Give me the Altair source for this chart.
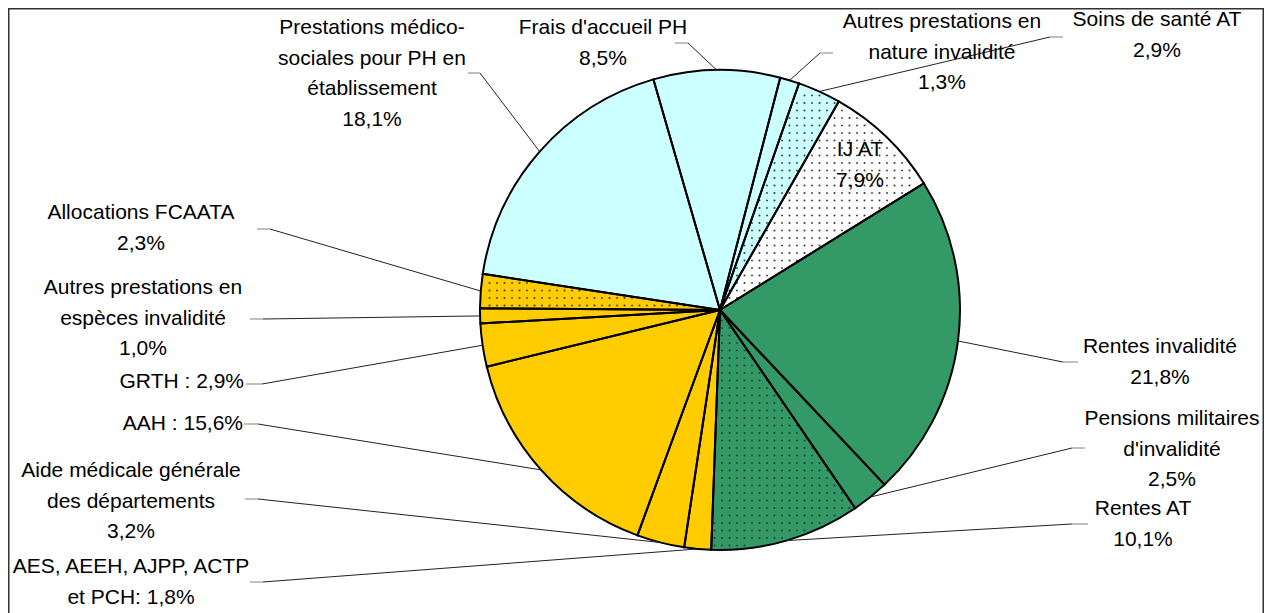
import math
import altair as alt
import pandas as pd

# ---------------- data ----------------
names = [
    "Frais d'accueil PH",
    "Autres prestations en nature invalidité",
    "Soins de santé AT",
    "IJ AT",
    "Rentes invalidité",
    "Pensions militaires d'invalidité",
    "Rentes AT",
    "AES, AEEH, AJPP, ACTP et PCH",
    "Aide médicale générale des départements",
    "AAH",
    "GRTH",
    "Autres prestations en espèces invalidité",
    "Allocations FCAATA",
    "Prestations médico-sociales pour PH en établissement",
]
shares = [8.5, 1.3, 2.9, 7.9, 21.8, 2.5, 10.1, 1.8, 3.2, 15.6, 2.9, 1.0, 2.3, 18.1]
label_lines = [
    ["Frais d'accueil PH", "8,5%"],
    ["Autres prestations en", "nature invalidité", "1,3%"],
    ["Soins de santé AT", "2,9%"],
    ["IJ AT", "7,9%"],
    ["Rentes invalidité", "21,8%"],
    ["Pensions militaires", "d'invalidité", "2,5%"],
    ["Rentes AT", "10,1%"],
    ["AES, AEEH, AJPP, ACTP", "et PCH: 1,8%"],
    ["Aide médicale générale", "des départements", "3,2%"],
    ["AAH : 15,6%"],
    ["GRTH : 2,9%"],
    ["Autres prestations en", "espèces invalidité", "1,0%"],
    ["Allocations FCAATA", "2,3%"],
    ["Prestations médico-", "sociales pour PH en", "établissement", "18,1%"],
]

# ---------------- styles / layout ----------------
colors = ["#CCFFFF", "#CCFFFF", "#CCFFFF", "#FFFFFF", "#339966", "#339966", "#339966",
          "#FFCC00", "#FFCC00", "#FFCC00", "#FFCC00", "#FFCC00", "#FFCC00", "#CCFFFF"]
dotted = [False, False, True, True, False, False, True,
          False, False, False, False, False, True, False]

W, H = 1256, 605          # drawing area (page x 8..1264, y 8..613)
CX, CY, R = 720, 310, 240  # pie centre / radius in page coordinates
START = -16.1              # angle (deg, clockwise from 12 o'clock) of the first slice
FONT = "Liberation Sans"
FS = 21
LH = 30.5

# label anchor (x centre, first line y, align) and leader elbow/end, page coordinates
label_pos = [
    (603, 28, "center"),
    (942, 22, "center"),
    (1157, 20, "center"),
    (860, 150, "center"),
    (1160, 347, "center"),
    (1172, 419, "center"),
    (1143, 509, "center"),
    (131, 567, "center"),
    (131, 471, "center"),
    (243, 424, "right"),
    (244, 382, "right"),
    (143, 288, "center"),
    (141, 213, "center"),
    (372, 28, "center"),
]
leaders = {
    0: ((688, 43), (675, 43)),
    1: ((820, 53), (833, 53)),
    2: ((1050, 37), (1063, 37)),
    4: ((1063, 362), (1078, 362)),
    5: ((1072, 448), (1085, 448)),
    6: ((1072, 524), (1088, 524)),
    7: ((263, 582), (250, 582)),
    8: ((258, 499), (245, 499)),
    9: ((258, 424), (244, 424)),
    10: ((262, 384), (246, 384)),
    11: ((263, 319), (250, 319)),
    12: ((270, 229), (257, 229)),
    13: ((480, 73), (468, 73)),
}

total = sum(shares)
cum = []
c = 0.0
for v in shares:
    cum.append(c)
    c += v

slices = pd.DataFrame({"idx": list(range(len(names))), "name": names, "share": shares})

# leader lines: start on the pie edge at the middle of each slice
lead_rows = []
for i, ((ex, ey), (hx, hy)) in leaders.items():
    mid = math.radians(START + (cum[i] + shares[i] / 2) / total * 360)
    x0 = CX + R * math.sin(mid)
    y0 = CY - R * math.cos(mid)
    lead_rows.append({"x0": x0, "y0": y0, "x1": ex, "y1": ey, "x2": hx, "y2": hy})
leads = pd.DataFrame(lead_rows)

text_rows = []
for i, lines in enumerate(label_lines):
    lx, ly, al = label_pos[i]
    for k, t in enumerate(lines):
        text_rows.append({"x": lx, "y": ly + k * LH, "t": t, "align": al})
texts = pd.DataFrame(text_rows)

xs = alt.Scale(domain=[8, 8 + W], nice=False, zero=False)
ys = alt.Scale(domain=[8, 8 + H], nice=False, zero=False, reverse=True)

s0 = math.radians(START) + 2 * math.pi
theta_enc = alt.Theta("share:Q", stack=True, scale=alt.Scale(range=[s0, s0 + 2 * math.pi]))

base_arc = alt.Chart(slices)
fill_layer = base_arc.mark_arc(outerRadius=R, strokeWidth=0).encode(
    theta=theta_enc,
    order=alt.Order("idx:Q"),
    color=alt.Color("name:N", scale=alt.Scale(domain=names, range=colors), legend=None),
    x=alt.value(CX - 8),
    y=alt.value(CY - 8),
)
outline_layer = base_arc.mark_arc(outerRadius=R, fillOpacity=0, stroke="#000000",
                                  strokeWidth=2).encode(
    theta=theta_enc,
    order=alt.Order("idx:Q"),
    x=alt.value(CX - 8),
    y=alt.value(CY - 8),
)

# dotted texture for the patterned slices
conds = []
for i, d in enumerate(dotted):
    if d:
        a0 = START + cum[i] / total * 360
        a1 = START + (cum[i] + shares[i]) / total * 360
        conds.append(f"(datum.ang > {a0 + 0.6:.3f} && datum.ang < {a1 - 0.6:.3f})")
STEP = 7.5
NCOL = 66
dots = (
    alt.Chart(alt.sequence(0, NCOL * NCOL, as_="i"))
    .transform_calculate(
        px=f"{CX - R} + (datum.i % {NCOL}) * {STEP} + 2",
        py=f"{CY - R} + floor(datum.i / {NCOL}) * {STEP} + 3",
    )
    .transform_calculate(
        rr=f"sqrt(pow(datum.px - {CX}, 2) + pow(datum.py - {CY}, 2))",
        ang=f"((atan2(datum.px - {CX}, {CY} - datum.py) * 180 / PI) + 360 - ({START})) % 360 + ({START})",
    )
    .transform_filter(f"datum.rr < {R - 3} && datum.rr > 6 && (" + " || ".join(conds) + ")")
    .mark_square(size=3, color="#333333", opacity=1)
    .encode(x=alt.X("px:Q", scale=xs, axis=None), y=alt.Y("py:Q", scale=ys, axis=None))
)

diag = alt.Chart(leads).mark_rule(color="#222222", strokeWidth=1).encode(
    x=alt.X("x0:Q", scale=xs, axis=None), y=alt.Y("y0:Q", scale=ys, axis=None),
    x2="x1:Q", y2="y1:Q",
)
horiz = alt.Chart(leads).mark_rule(color="#808080", strokeWidth=1).encode(
    x=alt.X("x1:Q", scale=xs, axis=None), y=alt.Y("y1:Q", scale=ys, axis=None),
    x2="x2:Q", y2="y2:Q",
)

def text_layer(al):
    return (
        alt.Chart(texts[texts["align"] == al])
        .mark_text(font=FONT, fontSize=FS, color="#000000", align=al, baseline="middle")
        .encode(x=alt.X("x:Q", scale=xs, axis=None), y=alt.Y("y:Q", scale=ys, axis=None),
                text="t:N")
    )

one = pd.DataFrame({"k": [0]})
border_left = alt.Chart(one).mark_rule(color="#333333", strokeWidth=1.5).encode(
    x=alt.value(0.75), y=alt.value(0), y2=alt.value(H))
border_top = alt.Chart(one).mark_rule(color="#333333", strokeWidth=1.5).encode(
    x=alt.value(0), x2=alt.value(W), y=alt.value(0.75))
border_right = alt.Chart(one).mark_rule(color="#333333", strokeWidth=1.5).encode(
    x=alt.value(W - 0.75), y=alt.value(0), y2=alt.value(H))

chart = (
    alt.layer(fill_layer, dots, outline_layer, diag, horiz,
              text_layer("center"), text_layer("right"),
              border_left, border_top, border_right)
    .properties(width=W, height=H, padding=0,
                autosize=alt.AutoSizeParams(type="none"), background="white")
    .configure_view(stroke=None)
)

chart.save("out.html", embed_options={"renderer": "svg", "actions": False})
